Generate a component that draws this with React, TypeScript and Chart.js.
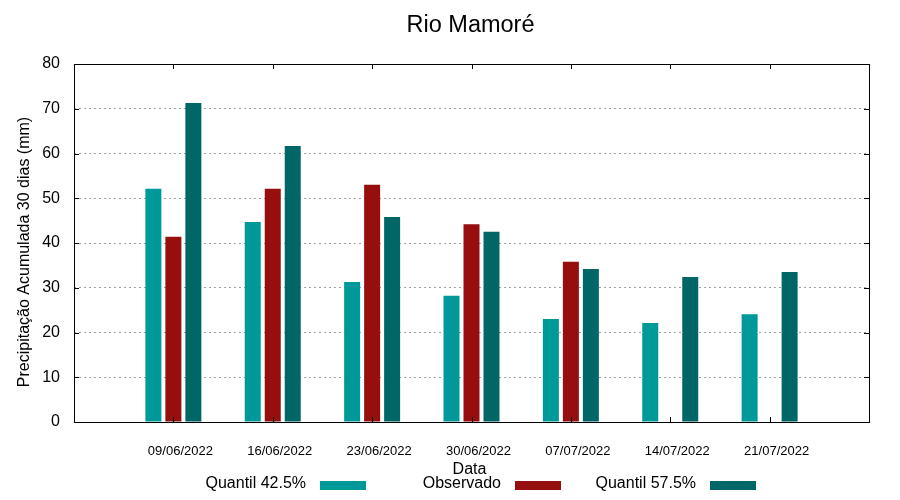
import React, { useEffect, useRef } from "react";
import { Chart, registerables } from "chart.js";

Chart.register(...registerables);

const TITLE = "Rio Mamoré";
const Y_TITLE = "Precipitação Acumulada 30 dias (mm)";
const X_TITLE = "Data";
const dates = ["09/06/2022", "16/06/2022", "23/06/2022", "30/06/2022", "07/07/2022", "14/07/2022", "21/07/2022"];
const seriesNames = ["Quantil 42.5%", "Observado", "Quantil 57.5%"];
const quantil425 = [52.1, 44.7, 31.3, 28.2, 23.0, 22.1, 24.1];
const observado: (number | null)[] = [41.4, 52.1, 53.0, 44.2, 35.8, null, null];
const quantil575 = [71.3, 61.7, 45.8, 42.5, 34.2, 32.4, 33.5];
const colors = ["#009999", "#960e0e", "#006666"];
const yTicks = [0, 10, 20, 30, 40, 50, 60, 70, 80];

const FONT = "'Liberation Sans', Arial, sans-serif";

const decor = {
  id: "decor",
  afterDatasetsDraw(chart: any) {
    const { ctx, chartArea: a, scales } = chart;
    const xs = scales.x;
    const ys = scales.y;
    ctx.save();
    ctx.strokeStyle = "#000";
    ctx.lineWidth = 1;
    ctx.setLineDash([]);
    ctx.strokeRect(Math.round(a.left) + 0.5, Math.round(a.top) + 0.5, Math.round(a.right - a.left), Math.round(a.bottom - a.top));
    ctx.beginPath();
    dates.forEach((_, i) => {
      const px = Math.round(xs.getPixelForValue(i)) + 0.5;
      ctx.moveTo(px, a.bottom);
      ctx.lineTo(px, a.bottom - 5);
      ctx.moveTo(px, a.top);
      ctx.lineTo(px, a.top + 5);
    });
    yTicks.slice(1, -1).forEach((v) => {
      const py = Math.round(ys.getPixelForValue(v)) + 0.5;
      ctx.moveTo(a.left, py);
      ctx.lineTo(a.left + 5, py);
      ctx.moveTo(a.right, py);
      ctx.lineTo(a.right - 5, py);
    });
    ctx.stroke();
    ctx.restore();
  },
  afterDraw(chart: any) {
    const { ctx, chartArea: a } = chart;
    const cx = (a.left + a.right) / 2;
    ctx.save();
    ctx.fillStyle = "#000";
    ctx.textBaseline = "alphabetic";
    ctx.font = `23.5px ${FONT}`;
    ctx.textAlign = "center";
    ctx.fillText(TITLE, cx - 1, 32);
    ctx.font = `16px ${FONT}`;
    ctx.fillText(X_TITLE, cx - 2, 474);
    ctx.save();
    ctx.translate(29, 252);
    ctx.rotate(-Math.PI / 2);
    ctx.textAlign = "center";
    ctx.fillText(Y_TITLE, 0, 0);
    ctx.restore();
    chart.data.datasets.forEach((ds: any, i: number) => {
      const right = 306 + 195 * i;
      ctx.textAlign = "right";
      ctx.fillStyle = "#000";
      ctx.fillText(ds.label, right, 488);
      ctx.fillStyle = ds.backgroundColor;
      ctx.fillRect(right + 14, 481, 46, 9);
    });
    ctx.restore();
  },
};

export default function App() {
  const ref = useRef<HTMLCanvasElement>(null);
  useEffect(() => {
    document.body.style.margin = "0";
    const mk = (vals: (number | null)[]) => vals.map((v, i) => ({ x: i, y: v }));
    const chart = new Chart(ref.current!, {
      type: "bar",
      data: {
        datasets: [
          { label: seriesNames[0], data: mk(quantil425) as any, backgroundColor: colors[0] },
          { label: seriesNames[1], data: mk(observado) as any, backgroundColor: colors[1] },
          { label: seriesNames[2], data: mk(quantil575) as any, backgroundColor: colors[2] },
        ],
      },
      options: {
        responsive: false,
        animation: false,
        layout: { padding: { left: 0, right: 31, top: 64, bottom: 0 } },
        datasets: { bar: { categoryPercentage: 0.6036, barPercentage: 0.8, inflateAmount: 0, borderWidth: 0 } },
        plugins: { legend: { display: false }, title: { display: false }, tooltip: { enabled: false } },
        scales: {
          x: {
            type: "linear",
            min: -1,
            max: 7,
            offset: false,
            grid: { display: false, offset: false, drawTicks: false },
            border: { display: false },
            afterFit: (s: any) => { s.height = 78; },
            afterBuildTicks: (s: any) => { s.ticks = dates.map((_, i) => ({ value: i })); },
            ticks: {
              autoSkip: false,
              maxRotation: 0,
              padding: 22,
              labelOffset: 7,
              color: "#000",
              font: { family: FONT, size: 13 },
              callback: (v: any) => dates[v as number] ?? "",
            },
          },
          y: {
            min: 0,
            max: 80,
            afterFit: (s: any) => { s.width = 74; },
            afterBuildTicks: (s: any) => { s.ticks = yTicks.map((v) => ({ value: v })); },
            grid: {
              drawTicks: false,
              color: (c: any) => (c.tick && (c.tick.value === 0 || c.tick.value === 80) ? "rgba(0,0,0,0)" : "#a0a0a0"),
              lineWidth: 1,
            },
            border: { display: false, dash: [2, 3] },
            ticks: { padding: 14, color: "#000", font: { family: FONT, size: 16 } },
          },
        },
      },
      plugins: [decor],
    });
    return () => chart.destroy();
  }, []);
  return <canvas ref={ref} width={900} height={500} style={{ display: "block", width: 900, height: 500 }} />;
}
